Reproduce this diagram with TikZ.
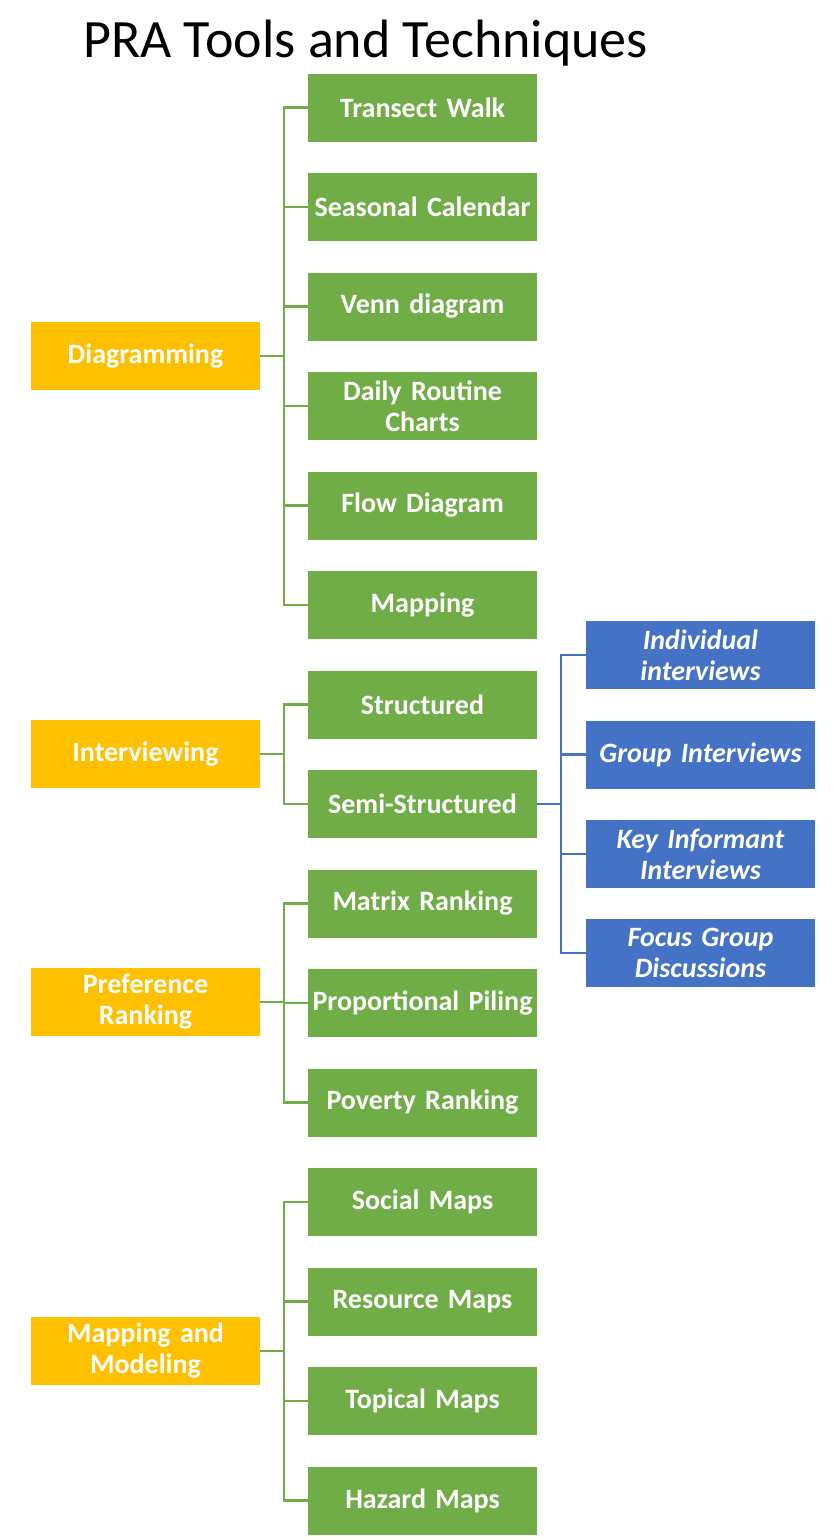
\documentclass[tikz,border=0pt]{standalone}
\usepackage{fontspec}
\setmainfont{Carlito}
\definecolor{leafgreen}{HTML}{70AD47}
\definecolor{goldbox}{HTML}{FFC000}
\definecolor{bluebox}{HTML}{4472C4}
\begin{document}
\begin{tikzpicture}[x=1pt,y=-1pt,
  box/.style={shape=rectangle,minimum width=229pt,minimum height=68pt,text width=227pt,
    inner sep=1pt,align=center,text=white,font=\fontsize{28}{31}\selectfont\bfseries},
  topic/.style={box,fill=goldbox},
  tool/.style={box,fill=leafgreen},
  kind/.style={box,fill=bluebox,font=\fontsize{28}{31}\selectfont\bfseries\itshape},
  gline/.style={draw=leafgreen,line width=2.5pt},
  bline/.style={draw=bluebox,line width=2.5pt}]
\useasboundingbox (0,0) rectangle (840,1540);
\node[anchor=base west,inner sep=0pt,font=\fontsize{54}{60}\selectfont] (title) at (83,57) {PRA Tools and Techniques};
\node[topic] (Dia) at (145.5,356) {Diagramming};
\node[topic] (Int) at (145.5,754) {Interviewing};
\node[topic] (Pre) at (145.5,1002) {Preference\\Ranking};
\node[topic] (Mod) at (145.5,1351) {Mapping and\\Modeling};
\node[tool] (TW) at (422.5,107.5) {Transect Walk};
\node[tool] (SC) at (422.5,207) {Seasonal Calendar};
\node[tool] (VD) at (422.5,306.5) {Venn diagram};
\node[tool] (DR) at (422.5,406) {Daily Routine\\Charts};
\node[tool] (FD) at (422.5,505.5) {Flow Diagram};
\node[tool] (MP) at (422.5,605) {Mapping};
\node[tool] (ST) at (422.5,704.5) {Structured};
\node[tool] (SS) at (422.5,804) {Semi-Structured};
\node[tool] (MR) at (422.5,903.5) {Matrix Ranking};
\node[tool] (PP) at (422.5,1003) {Proportional Piling};
\node[tool] (PR) at (422.5,1102.5) {Poverty Ranking};
\node[tool] (SM) at (422.5,1202) {Social Maps};
\node[tool] (RM) at (422.5,1301.5) {Resource Maps};
\node[tool] (TM) at (422.5,1401) {Topical Maps};
\node[tool] (HM) at (422.5,1500.5) {Hazard Maps};
\node[kind] (II) at (700.5,655) {Individual\\interviews};
\node[kind] (GI) at (700.5,754.5) {Group Interviews};
\node[kind] (KI) at (700.5,854) {Key Informant\\Interviews};
\node[kind] (FG) at (700.5,953) {Focus Group\\Discussions};
\path [gline] (Dia.east) -- +(24,0) |- (TW.west);
\path [gline] (Dia.east) -- +(24,0) |- (SC.west);
\path [gline] (Dia.east) -- +(24,0) |- (VD.west);
\path [gline] (Dia.east) -- +(24,0) |- (DR.west);
\path [gline] (Dia.east) -- +(24,0) |- (FD.west);
\path [gline] (Dia.east) -- +(24,0) |- (MP.west);
\path [gline] (Int.east) -- +(24,0) |- (ST.west);
\path [gline] (Int.east) -- +(24,0) |- (SS.west);
\path [gline] (Pre.east) -- +(24,0) |- (MR.west);
\path [gline] (Pre.east) -- +(24,0) |- (PP.west);
\path [gline] (Pre.east) -- +(24,0) |- (PR.west);
\path [gline] (Mod.east) -- +(24,0) |- (SM.west);
\path [gline] (Mod.east) -- +(24,0) |- (RM.west);
\path [gline] (Mod.east) -- +(24,0) |- (TM.west);
\path [gline] (Mod.east) -- +(24,0) |- (HM.west);
\path [bline] (SS.east) -- +(24,0) |- (II.west);
\path [bline] (SS.east) -- +(24,0) |- (GI.west);
\path [bline] (SS.east) -- +(24,0) |- (KI.west);
\path [bline] (SS.east) -- +(24,0) |- (FG.west);
\end{tikzpicture}
\end{document}
